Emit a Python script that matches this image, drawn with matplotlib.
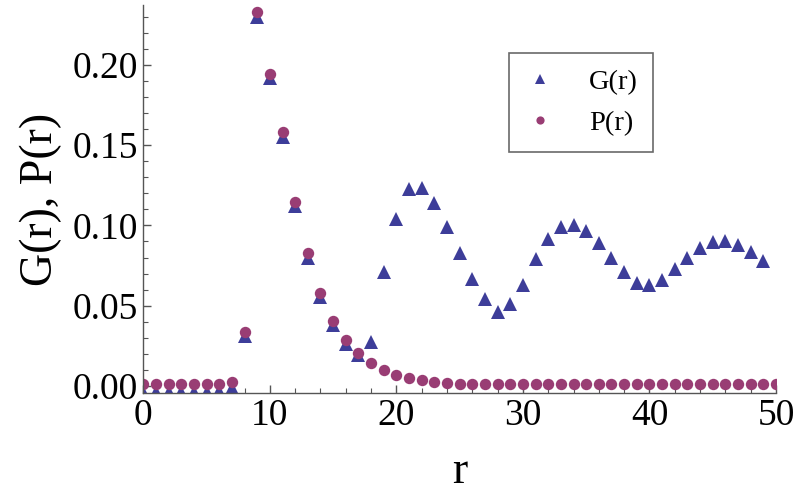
import numpy as np
import matplotlib
matplotlib.use("Agg")
import matplotlib.pyplot as plt
from matplotlib.ticker import MultipleLocator, FormatStrFormatter

plt.rcParams['font.family'] = ['Liberation Serif', 'DejaVu Serif']

# Sample positions
r_g = np.arange(0, 50)
r_p = np.arange(0, 51)

# G(r): pair distribution values
g_vals = [-0.004, -0.004, -0.004, -0.004, -0.004, -0.004, -0.003, -0.001,
          0.031, 0.230, 0.192, 0.155, 0.112, 0.080, 0.0556, 0.038, 0.026,
          0.019, 0.0272, 0.0712, 0.1038, 0.1227, 0.1231, 0.1138, 0.0989,
          0.0827, 0.0665, 0.054, 0.0463, 0.0511, 0.0627, 0.0789, 0.0914,
          0.0989, 0.1001, 0.0966, 0.0889, 0.0796, 0.0708, 0.0644, 0.0627,
          0.066, 0.0727, 0.0796, 0.0858, 0.0897, 0.0903, 0.0876, 0.0833,
          0.0780]

# P(r): probability values
p_vals = [0.001, 0.001, 0.001, 0.001, 0.001, 0.001, 0.001, 0.0023,
          0.0336, 0.2326, 0.1944, 0.158, 0.1148, 0.0827, 0.0581, 0.0407,
          0.0287, 0.0204, 0.0141, 0.0100, 0.0069, 0.005, 0.0037, 0.0027,
          0.0017, 0.0012] + [0.001] * 25

blue = '#3d3d99'
purple = '#993d74'

fig = plt.figure(figsize=(7.98, 4.93), dpi=100)
ax = fig.add_axes([0.1796, 0.2028, 0.7928, 0.7871])

ax.plot(r_g, g_vals, linestyle='none', marker='^', markersize=9.5,
        color=blue, markeredgewidth=0, label='G(r)', clip_on=True)
ax.plot(r_p, p_vals, linestyle='none', marker='o', markersize=8.2,
        color=purple, markeredgewidth=0, label='P(r)', clip_on=True)

ax.set_xlim(0, 50)
ax.set_ylim(-0.00436, 0.2372)

ax.spines['top'].set_visible(False)
ax.spines['right'].set_visible(False)
for s in ('left', 'bottom'):
    ax.spines[s].set_color('#555555')
    ax.spines[s].set_linewidth(1.0)

ax.xaxis.set_major_locator(MultipleLocator(10))
ax.xaxis.set_minor_locator(MultipleLocator(2))
ax.yaxis.set_major_locator(MultipleLocator(0.05))
ax.yaxis.set_minor_locator(MultipleLocator(0.01))
ax.yaxis.set_major_formatter(FormatStrFormatter('%.2f'))

ax.tick_params(which='major', direction='in', length=6, width=1.0,
               color='#555555', labelsize=27, pad=4)
ax.tick_params(which='minor', direction='in', length=3.5, width=0.8,
               color='#555555')

ax.set_xlabel('r', fontsize=33)
ax.set_ylabel('G(r), P(r)', fontsize=33)
ax.xaxis.set_label_coords(0.5, -0.148)
ax.yaxis.set_label_coords(-0.128, 0.5)

leg = ax.legend(loc='upper left', bbox_to_anchor=(0.578, 0.876),
                fontsize=20.5, markerscale=0.72, frameon=True, fancybox=False,
                borderpad=0.55, labelspacing=0.55, handlelength=1.1,
                handletextpad=1.15, borderaxespad=0)
leg.get_frame().set_edgecolor('#444444')
leg.get_frame().set_linewidth(1.2)

fig.savefig('out.png', dpi=100)
